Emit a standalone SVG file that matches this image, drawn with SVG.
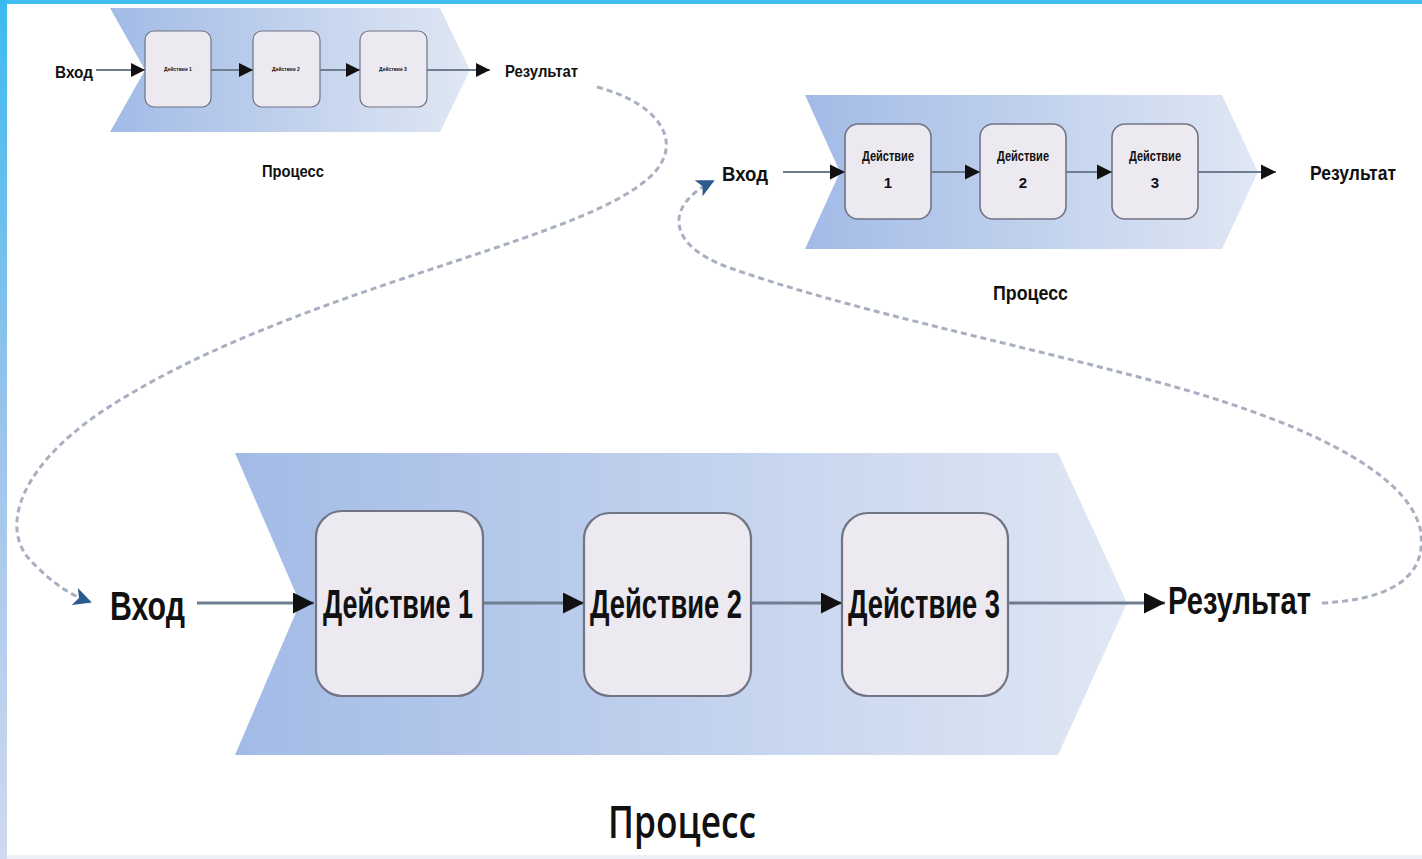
<svg xmlns="http://www.w3.org/2000/svg" width="1422" height="859" viewBox="0 0 1422 859">
  <defs>
    <linearGradient id="chevFill" x1="0" y1="0" x2="1" y2="0">
      <stop offset="0" stop-color="#a2bbe6"/>
      <stop offset="1" stop-color="#e0e7f4"/>
    </linearGradient>
    <linearGradient id="sideBar" x1="0" y1="0" x2="0" y2="1">
      <stop offset="0" stop-color="#3bbaf0"/>
      <stop offset="0.5" stop-color="#9cc4ea"/>
      <stop offset="1" stop-color="#d0d9f0"/>
    </linearGradient>
    <marker id="tri" viewBox="0 0 10 10" refX="10" refY="5" markerWidth="7" markerHeight="7" orient="auto" markerUnits="strokeWidth">
      <path d="M0,0 L10,5 L0,10 Z" fill="#111"/>
    </marker>
    <marker id="triBlue" viewBox="0 0 10 10" refX="9" refY="5" markerWidth="6" markerHeight="6" orient="auto" markerUnits="strokeWidth">
      <path d="M0,0 L10,5 L0,10 L2.5,5 Z" fill="#2b5b8e"/>
    </marker>
    <style>
      .chev { fill: url(#chevFill); }
      .box { fill: #ece9f1; stroke: #707484; }
      .flow { fill: none; stroke: #6f7d90; marker-end: url(#tri); }
      .loop { fill: none; stroke: #a8b0c0; stroke-width: 3; stroke-dasharray: 6 4; marker-end: url(#triBlue); }
      .t { font-family: "Liberation Sans", "DejaVu Sans", sans-serif; font-weight: bold; fill: #111; }
      .cap { font-family: "Open Sans", "Liberation Sans", sans-serif; font-weight: 600; fill: #111; }
    </style>
  </defs>

  <!-- page background and frame -->
  <rect x="0" y="0" width="1422" height="859" fill="#ffffff"/>
  <rect x="0" y="0" width="1422" height="4" fill="#42bdf0"/>
  <rect x="0" y="0" width="7" height="859" fill="url(#sideBar)"/>
  <rect x="7" y="855" width="1415" height="4" fill="#eef0f8"/>

  <!-- dashed feedback loops -->
  <g id="connectors-loops">
    <path class="loop" d="M 597 87 C 665 105, 690 150, 640 185 C 560 245, 300 290, 120 400 C 20 460, -5 530, 35 565 C 52 582, 68 594, 90 602"/>
    <path class="loop" d="M 1322 603 C 1385 600, 1430 580, 1420 528 C 1405 470, 1300 420, 1150 380 C 1000 340, 850 310, 730 268 C 665 245, 665 205, 713 181"/>
  </g>

  <!-- small process (top left) -->
  <g id="process-small">
    <polygon class="chev" points="110,8 440,8 470,70 440,132 110,132 145,70"/>
    <g id="small-nodes">
      <rect class="box" stroke-width="1.2" x="145" y="31" width="66" height="76" rx="9"/>
      <rect class="box" stroke-width="1.2" x="253" y="31" width="67" height="76" rx="9"/>
      <rect class="box" stroke-width="1.2" x="360" y="31" width="67" height="76" rx="9"/>
      <text class="t" x="178" y="71" font-size="5" text-anchor="middle">Действие 1</text>
      <text class="t" x="286" y="71" font-size="5" text-anchor="middle">Действие 2</text>
      <text class="t" x="393" y="71" font-size="5" text-anchor="middle">Действие 3</text>
    </g>
    <g id="small-connectors">
      <line class="flow" stroke-width="2" x1="96" y1="70" x2="145" y2="70"/>
      <line class="flow" stroke-width="2" x1="211" y1="70" x2="253" y2="70"/>
      <line class="flow" stroke-width="2" x1="320" y1="70" x2="360" y2="70"/>
      <line class="flow" stroke-width="2" x1="427" y1="70" x2="490" y2="70"/>
    </g>
    <text class="t" x="55" y="78" font-size="17" textLength="38" lengthAdjust="spacingAndGlyphs">Вход</text>
    <text class="t" x="505" y="77" font-size="16" textLength="73" lengthAdjust="spacingAndGlyphs">Результат</text>
    <text class="t" x="262" y="177" font-size="16" textLength="62" lengthAdjust="spacingAndGlyphs">Процесс</text>
  </g>

  <!-- medium process (top right) -->
  <g id="process-medium">
    <polygon class="chev" points="805,95 1222,95 1258,172 1222,249 805,249 840,172"/>
    <g id="medium-nodes">
      <rect class="box" stroke-width="1.6" x="845" y="124" width="86" height="95" rx="13"/>
      <rect class="box" stroke-width="1.6" x="980" y="124" width="86" height="95" rx="13"/>
      <rect class="box" stroke-width="1.6" x="1112" y="124" width="86" height="95" rx="13"/>
      <text class="t" x="888" y="161" font-size="14" text-anchor="middle" textLength="52" lengthAdjust="spacingAndGlyphs">Действие</text>
      <text class="t" x="888" y="188" font-size="15" text-anchor="middle">1</text>
      <text class="t" x="1023" y="161" font-size="14" text-anchor="middle" textLength="52" lengthAdjust="spacingAndGlyphs">Действие</text>
      <text class="t" x="1023" y="188" font-size="15" text-anchor="middle">2</text>
      <text class="t" x="1155" y="161" font-size="14" text-anchor="middle" textLength="52" lengthAdjust="spacingAndGlyphs">Действие</text>
      <text class="t" x="1155" y="188" font-size="15" text-anchor="middle">3</text>
    </g>
    <g id="medium-connectors">
      <line class="flow" stroke-width="2.2" x1="783" y1="172" x2="845" y2="172"/>
      <line class="flow" stroke-width="2.2" x1="931" y1="172" x2="980" y2="172"/>
      <line class="flow" stroke-width="2.2" x1="1066" y1="172" x2="1112" y2="172"/>
      <line class="flow" stroke-width="2.2" x1="1198" y1="172" x2="1276" y2="172"/>
    </g>
    <text class="t" x="722" y="181" font-size="21" textLength="46" lengthAdjust="spacingAndGlyphs">Вход</text>
    <text class="t" x="1310" y="180" font-size="20" textLength="86" lengthAdjust="spacingAndGlyphs">Результат</text>
    <text class="t" x="993" y="300" font-size="20" textLength="75" lengthAdjust="spacingAndGlyphs">Процесс</text>
  </g>

  <!-- large process (bottom) -->
  <g id="process-large">
    <polygon class="chev" points="235,453 1058,453 1127,603 1058,755 235,755 300,603"/>
    <g id="node-action-1">
      <rect class="box" stroke-width="2.2" x="316" y="511" width="167" height="185" rx="26"/>
      <text class="t" x="323" y="618" font-size="40" textLength="150" lengthAdjust="spacingAndGlyphs">Действие 1</text>
    </g>
    <g id="node-action-2">
      <rect class="box" stroke-width="2.2" x="584" y="513" width="167" height="183" rx="26"/>
      <text class="t" x="590" y="618" font-size="40" textLength="152" lengthAdjust="spacingAndGlyphs">Действие 2</text>
    </g>
    <g id="node-action-3">
      <rect class="box" stroke-width="2.2" x="842" y="513" width="166" height="183" rx="26"/>
      <text class="t" x="848" y="618" font-size="40" textLength="152" lengthAdjust="spacingAndGlyphs">Действие 3</text>
    </g>
    <g id="large-connectors">
      <line class="flow" stroke-width="3" x1="197" y1="603" x2="314" y2="603"/>
      <line class="flow" stroke-width="3" x1="483" y1="603" x2="584" y2="603"/>
      <line class="flow" stroke-width="3" x1="751" y1="603" x2="842" y2="603"/>
      <line class="flow" stroke-width="3" x1="1008" y1="603" x2="1165" y2="603"/>
    </g>
    <text class="t" x="110" y="620" font-size="40" textLength="75" lengthAdjust="spacingAndGlyphs">Вход</text>
    <text class="t" x="1168" y="614" font-size="38" textLength="143" lengthAdjust="spacingAndGlyphs">Результат</text>
    <text class="cap" x="608" y="838" font-size="46" textLength="148" lengthAdjust="spacingAndGlyphs">Процесс</text>
  </g>
</svg>
